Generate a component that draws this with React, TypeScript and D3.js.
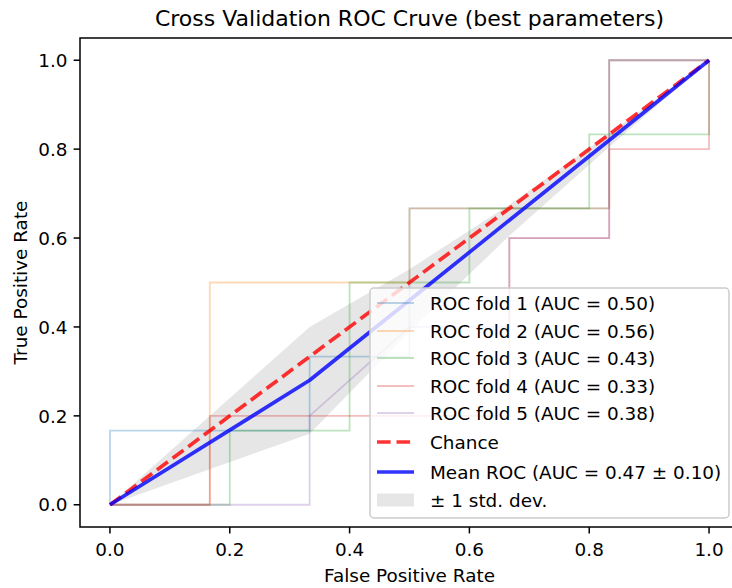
import React from "react";
import * as d3 from "d3";

// Per-fold ROC curves (false positive rate, true positive rate)
const fold1Fpr = [0, 0, 1 / 3, 1 / 3, 0.5, 0.5, 5 / 6, 5 / 6, 1];
const fold1Tpr = [0, 1 / 6, 1 / 6, 1 / 3, 1 / 3, 2 / 3, 2 / 3, 1, 1];
const fold2Fpr = [0, 1 / 6, 1 / 6, 0.5, 0.5, 5 / 6, 5 / 6, 1];
const fold2Tpr = [0, 0, 0.5, 0.5, 2 / 3, 2 / 3, 1, 1];
const fold3Fpr = [0, 0.2, 0.2, 0.4, 0.4, 0.6, 0.6, 0.8, 0.8, 1, 1];
const fold3Tpr = [0, 0, 1 / 6, 1 / 6, 0.5, 0.5, 2 / 3, 2 / 3, 5 / 6, 5 / 6, 1];
const fold4Fpr = [0, 1 / 6, 1 / 6, 2 / 3, 2 / 3, 5 / 6, 5 / 6, 1, 1];
const fold4Tpr = [0, 0, 0.2, 0.2, 0.6, 0.6, 0.8, 0.8, 1];
const fold5Fpr = [0, 1 / 3, 1 / 3, 0.5, 2 / 3, 2 / 3, 5 / 6, 5 / 6, 1];
const fold5Tpr = [0, 0, 0.2, 0.4, 0.4, 0.6, 0.6, 1, 1];

const foldFprs = [fold1Fpr, fold2Fpr, fold3Fpr, fold4Fpr, fold5Fpr];
const foldTprs = [fold1Tpr, fold2Tpr, fold3Tpr, fold4Tpr, fold5Tpr];
const foldColors = ["#1f77b4", "#ff7f0e", "#2ca02c", "#d62728", "#9467bd"];

// Mean ROC and its standard deviation across folds
const meanFpr = [0, 1 / 3, 0.5, 2 / 3, 5 / 6, 1];
const meanTpr = [0, 0.28, 0.46, 0.64, 0.82, 1];
const stdTpr = [0, 0.12, 0.07, 0.035, 0.015, 0];
const aucStd = 0.1;

const ticks = [0, 0.2, 0.4, 0.6, 0.8, 1.0];

const FONT = "DejaVu Sans";
const FS = 18.4;

function auc(xs: number[], ys: number[]) {
  let a = 0;
  for (let i = 1; i < xs.length; i++) a += (xs[i] - xs[i - 1]) * (ys[i] + ys[i - 1]) / 2;
  return a;
}

export default function App() {
  const W = 732;
  const H = 588;
  const x = d3.scaleLinear().domain([-0.05, 1.05]).range([80, 739]);
  const y = d3.scaleLinear().domain([-0.05, 1.05]).range([527, 38]);
  const fmt = d3.format(".2f");

  const line = d3
    .line<[number, number]>()
    .x((d) => x(d[0]))
    .y((d) => y(d[1]));

  const bandPts = meanFpr.map((f, i) => ({
    f,
    lo: Math.max(meanTpr[i] - stdTpr[i], 0),
    hi: Math.min(meanTpr[i] + stdTpr[i], 1),
  }));
  const area = d3
    .area<{ f: number; lo: number; hi: number }>()
    .x((d) => x(d.f))
    .y0((d) => y(d.lo))
    .y1((d) => y(d.hi));

  const zip = (a: number[], b: number[]) => a.map((v, i) => [v, b[i]] as [number, number]);

  const foldLabels = foldFprs.map(
    (f, i) => `ROC fold ${i + 1} (AUC = ${fmt(auc(f, foldTprs[i]))})`
  );
  const meanLabel = `Mean ROC (AUC = ${fmt(auc(meanFpr, meanTpr))} ± ${fmt(aucStd)})`;

  const rowY = [303, 331, 358, 386, 413, 442, 472, 500];
  const hx0 = 377;
  const hx1 = 414;
  const tx = 430;

  const x0 = x.range()[0];
  const yb = y.range()[0];

  return (
    <svg
      width={W}
      height={H}
      style={{ position: "absolute", left: 0, top: 0, background: "#fff" }}
      fontFamily={FONT}
    >
      <rect x={0} y={0} width={W} height={H} fill="#fff" />
      <defs>
        <clipPath id="plotClip">
          <rect x={80} y={38} width={659} height={489} />
        </clipPath>
      </defs>

      <g clipPath="url(#plotClip)">
        {/* ±1 std band */}
        <path d={area(bandPts) || ""} fill="#808080" fillOpacity={0.2} stroke="none" />
        {/* fold curves */}
        {foldFprs.map((f, i) => (
          <path
            key={i}
            d={line(zip(f, foldTprs[i])) || ""}
            fill="none"
            stroke={foldColors[i]}
            strokeOpacity={0.3}
            strokeWidth={1.8}
          />
        ))}
        {/* chance diagonal */}
        <path
          d={line([[0, 0], [1, 1]]) || ""}
          fill="none"
          stroke="#ff0000"
          strokeOpacity={0.8}
          strokeWidth={3.7}
          strokeDasharray="13.6,5.9"
        />
        {/* mean ROC */}
        <path
          d={line(zip(meanFpr, meanTpr)) || ""}
          fill="none"
          stroke="#0000ff"
          strokeOpacity={0.8}
          strokeWidth={3.7}
          strokeLinejoin="round"
        />
      </g>

      {/* frame */}
      <rect x={80} y={38} width={659} height={489} fill="none" stroke="#000" strokeWidth={1.5} />

      {/* x ticks */}
      {ticks.map((t) => (
        <g key={"x" + t}>
          <line x1={x(t)} x2={x(t)} y1={yb} y2={yb + 6.4} stroke="#000" strokeWidth={1.5} />
          <text x={x(t)} y={555.5} fontSize={FS} textAnchor="middle" fill="#000">
            {t.toFixed(1)}
          </text>
        </g>
      ))}
      {/* y ticks */}
      {ticks.map((t) => (
        <g key={"y" + t}>
          <line x1={x0 - 6.4} x2={x0} y1={y(t)} y2={y(t)} stroke="#000" strokeWidth={1.5} />
          <text x={67.5} y={y(t) + 6.7} fontSize={FS} textAnchor="end" fill="#000">
            {t.toFixed(1)}
          </text>
        </g>
      ))}

      <text x={409.5} y={582} fontSize={FS} textAnchor="middle" fill="#000">
        False Positive Rate
      </text>
      <text
        transform={`translate(27,282.5) rotate(-90)`}
        fontSize={FS}
        textAnchor="middle"
        fill="#000"
      >
        True Positive Rate
      </text>
      <text x={409.5} y={26} fontSize={22} textAnchor="middle" fill="#000">
        Cross Validation ROC Cruve (best parameters)
      </text>

      {/* legend */}
      <g>
        <rect
          x={370}
          y={288}
          width={359}
          height={230}
          rx={4}
          ry={4}
          fill="#fff"
          fillOpacity={0.8}
          stroke="#cccccc"
          strokeWidth={1.5}
        />
        {foldLabels.map((lab, i) => (
          <g key={"lg" + i}>
            <line
              x1={hx0}
              x2={hx1}
              y1={rowY[i]}
              y2={rowY[i]}
              stroke={foldColors[i]}
              strokeOpacity={0.3}
              strokeWidth={1.8}
            />
            <text x={tx} y={rowY[i] + 6.7} fontSize={FS} fill="#000">
              {lab}
            </text>
          </g>
        ))}
        <line
          x1={hx0}
          x2={hx1}
          y1={rowY[5]}
          y2={rowY[5]}
          stroke="#ff0000"
          strokeOpacity={0.8}
          strokeWidth={3.7}
          strokeDasharray="13.6,5.9"
        />
        <text x={tx} y={rowY[5] + 6.7} fontSize={FS} fill="#000">
          Chance
        </text>
        <line
          x1={hx0}
          x2={hx1}
          y1={rowY[6]}
          y2={rowY[6]}
          stroke="#0000ff"
          strokeOpacity={0.8}
          strokeWidth={3.7}
        />
        <text x={tx} y={rowY[6] + 6.7} fontSize={FS} fill="#000">
          {meanLabel}
        </text>
        <rect
          x={hx0}
          y={rowY[7] - 6.5}
          width={hx1 - hx0}
          height={13}
          fill="#808080"
          fillOpacity={0.2}
        />
        <text x={tx} y={rowY[7] + 6.7} fontSize={FS} fill="#000">
          ± 1 std. dev.
        </text>
      </g>
    </svg>
  );
}
